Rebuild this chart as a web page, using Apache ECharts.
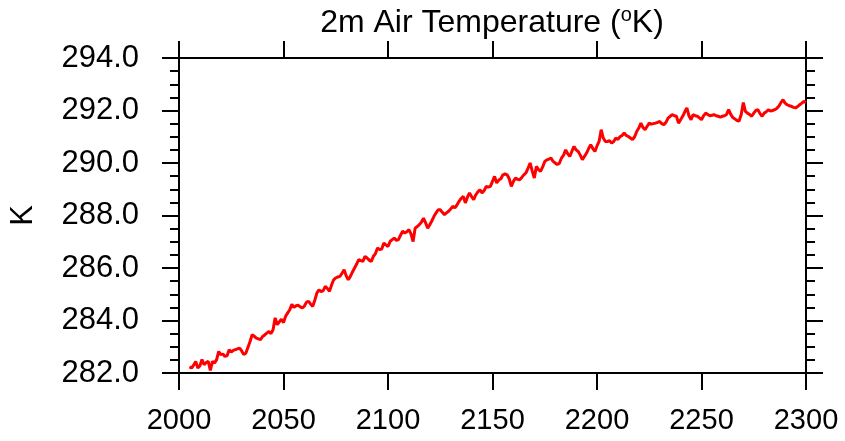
<!DOCTYPE html>
<html>
<head>
<meta charset="utf-8">
<script src="https://cdn.jsdelivr.net/npm/echarts@6/dist/echarts.min.js"></script>
<style>html,body{margin:0;padding:0;background:#fff;}#c{width:845px;height:441px;}</style>
</head>
<body>
<div id="c"></div>
<script>
const titleText = '2m Air Temperature (';
const yAxisName = 'K';
const xTicks = [2000, 2050, 2100, 2150, 2200, 2250, 2300];
const yTicks = [282, 284, 286, 288, 290, 292, 294];
const firstYear = 2005;
// annual 2m air temperature (K), 2005..2300
const temps = [
  282.23, 282.19, 282.30, 282.44, 282.19,
  282.28, 282.51, 282.32, 282.40, 282.44, 282.10, 282.44, 282.38, 282.51, 282.82,
  282.70, 282.72, 282.63, 282.66, 282.89, 282.80, 282.86, 282.89, 282.92, 282.95,
  282.84, 282.70, 282.76, 282.98, 283.20, 283.46, 283.40, 283.33, 283.30, 283.27,
  283.39, 283.45, 283.52, 283.58, 283.50, 283.65, 284.10, 283.84, 283.95, 284.05,
  283.92, 284.16, 284.29, 284.41, 284.62, 284.50, 284.56, 284.58, 284.52, 284.48,
  284.55, 284.70, 284.73, 284.62, 284.54, 284.78, 285.05, 285.17, 285.10, 285.14,
  285.30, 285.22, 285.11, 285.35, 285.55, 285.62, 285.66, 285.68, 285.80, 285.93,
  285.70, 285.55, 285.68, 285.85, 286.00, 286.15, 286.32, 286.28, 286.25, 286.44,
  286.38, 286.30, 286.25, 286.44, 286.55, 286.76, 286.70, 286.72, 286.95, 286.88,
  286.82, 287.01, 287.08, 287.14, 287.05, 287.08, 287.25, 287.40, 287.33, 287.38,
  287.46, 287.30, 287.01, 287.52, 287.58, 287.65, 287.75, 287.90, 287.72, 287.52,
  287.65, 287.80, 287.97, 288.10, 288.22, 288.22, 288.12, 288.03, 288.10, 288.16,
  288.25, 288.35, 288.29, 288.40, 288.54, 288.65, 288.73, 288.48, 288.70, 288.86,
  288.72, 288.60, 288.79, 288.90, 288.98, 288.86, 288.95, 289.11, 289.08, 289.11,
  289.30, 289.49, 289.24, 289.35, 289.40, 289.55, 289.58, 289.55, 289.40, 289.11,
  289.30, 289.43, 289.38, 289.36, 289.45, 289.55, 289.62, 289.80, 290.00, 289.70,
  289.43, 289.87, 289.75, 289.68, 289.85, 290.06, 290.12, 290.15, 290.19, 290.06,
  290.00, 289.94, 289.99, 290.19, 290.30, 290.50, 290.35, 290.25, 290.45, 290.63,
  290.50, 290.44, 290.30, 290.13, 290.25, 290.38, 290.55, 290.70, 290.55, 290.44,
  290.65, 290.82, 291.27, 290.95, 290.82, 290.82, 290.85, 290.76, 290.82, 290.95,
  290.90, 291.00, 291.05, 291.14, 291.05, 291.01, 290.95, 290.89, 291.00, 291.20,
  291.33, 291.52, 291.35, 291.27, 291.40, 291.52, 291.48, 291.50, 291.52, 291.55,
  291.58, 291.50, 291.46, 291.55, 291.71, 291.78, 291.84, 291.80, 291.78, 291.52,
  291.65, 291.78, 291.95, 292.10, 291.80, 291.65, 291.84, 291.80, 291.78, 291.72,
  291.65, 291.80, 291.90, 291.85, 291.80, 291.82, 291.84, 291.80, 291.78, 291.75,
  291.78, 291.80, 291.85, 292.03, 291.85, 291.73, 291.68, 291.62, 291.60, 291.85,
  292.30, 291.97, 291.90, 291.85, 291.78, 291.90, 292.00, 292.03, 291.88, 291.78,
  291.90, 291.95, 292.03, 291.98, 292.00, 292.03, 292.08, 292.16, 292.30, 292.41,
  292.28, 292.22, 292.18, 292.16, 292.12, 292.10, 292.15, 292.22, 292.28, 292.35,
  292.30
];

const years = temps.map((_, i) => firstYear + i);
const seriesData = temps.map((v, i) => [years[i], v]);

const FONT = 'Liberation Sans';
const AXL = { color: '#000', width: 2 };
const xMin = xTicks[0], xMax = xTicks[xTicks.length - 1];
const xInt = xTicks[1] - xTicks[0];
const yMin = yTicks[0], yMax = yTicks[yTicks.length - 1];
const yInt = yTicks[1] - yTicks[0];

const chart = echarts.init(document.getElementById('c'), null, { renderer: 'canvas' });
chart.setOption({
  animation: false,
  backgroundColor: '#fff',
  title: {
    text: '{n|' + titleText + '}{s|o}{n|K)}',
    left: 492, top: 5, padding: 0,
    textAlign: 'center',
    textStyle: {
      fontWeight: 'normal',
      rich: {
        n: { fontFamily: FONT, fontSize: 32, fontWeight: 'normal', color: '#000', lineHeight: 36 },
        s: { fontFamily: FONT, fontSize: 20, fontWeight: 'normal', color: '#000', verticalAlign: 'top', lineHeight: 34 }
      }
    }
  },
  grid: { left: 177, right: 39, top: 58, bottom: 68, containLabel: false },
  xAxis: [
    {
      type: 'value', position: 'bottom', min: xMin, max: xMax, interval: xInt,
      axisLine: { show: true, onZero: false, lineStyle: AXL },
      axisTick: { show: true, inside: false, length: 17, lineStyle: AXL },
      axisLabel: { show: true, margin: 33, fontFamily: FONT, fontSize: 29, color: '#000',
        formatter: v => String(v) },
      splitLine: { show: false }
    },
    {
      type: 'value', position: 'top', min: xMin, max: xMax, interval: xInt,
      axisLine: { show: true, onZero: false, lineStyle: AXL },
      axisTick: { show: true, inside: false, length: 17, lineStyle: AXL },
      axisLabel: { show: false },
      splitLine: { show: false }
    }
  ],
  yAxis: [
    {
      type: 'value', position: 'left', min: yMin, max: yMax, interval: yInt,
      name: yAxisName, nameLocation: 'middle', nameGap: 140, nameRotate: 90,
      nameTextStyle: { fontFamily: FONT, fontSize: 31, color: '#000' },
      axisLine: { show: true, onZero: false, lineStyle: AXL },
      axisTick: { show: true, inside: false, length: 17, lineStyle: AXL },
      minorTick: { show: true, splitNumber: 4, length: 9, lineStyle: AXL },
      axisLabel: { show: true, margin: 40, fontFamily: FONT, fontSize: 31, color: '#000',
        formatter: v => v.toFixed(1) },
      splitLine: { show: false }, minorSplitLine: { show: false }
    },
    {
      type: 'value', position: 'right', min: yMin, max: yMax, interval: yInt,
      axisLine: { show: true, onZero: false, lineStyle: AXL },
      axisTick: { show: true, inside: false, length: 17, lineStyle: AXL },
      minorTick: { show: true, splitNumber: 4, length: 9, lineStyle: AXL },
      axisLabel: { show: false },
      splitLine: { show: false }, minorSplitLine: { show: false }
    }
  ],
  series: [{
    type: 'line', xAxisIndex: 0, yAxisIndex: 0,
    data: seriesData, showSymbol: false, symbol: 'none',
    lineStyle: { color: '#ff0000', width: 3 },
    z: 1
  }]
});
</script>
</body>
</html>
